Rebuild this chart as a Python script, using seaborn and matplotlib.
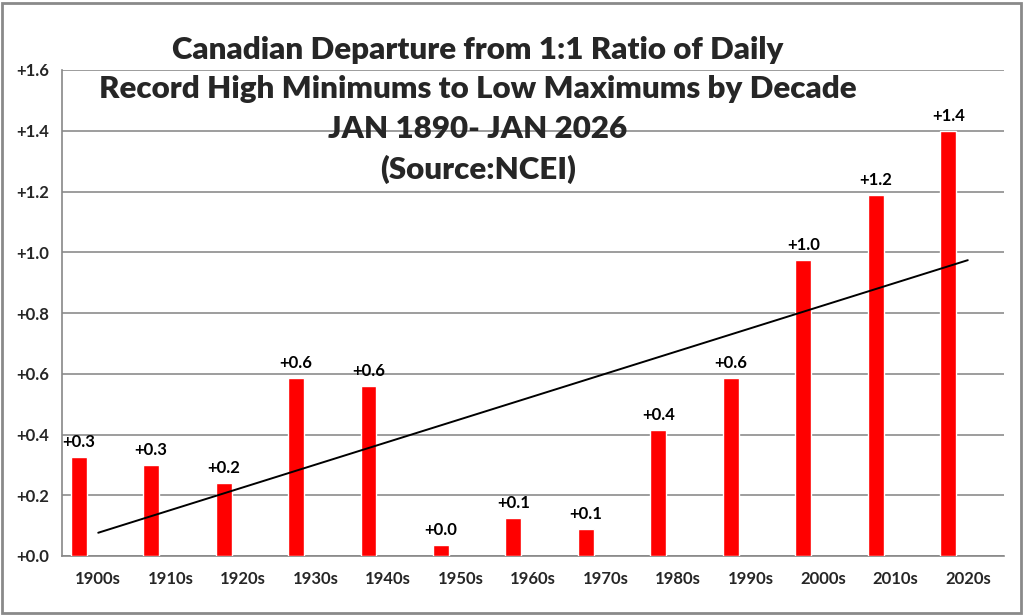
import numpy as np
import pandas as pd
import matplotlib
matplotlib.use("Agg")
import matplotlib.pyplot as plt
import matplotlib.ticker as mticker
from matplotlib.patches import Rectangle
import seaborn as sns

# data
decades = ['1900s', '1910s', '1920s', '1930s', '1940s', '1950s', '1960s',
           '1970s', '1980s', '1990s', '2000s', '2010s', '2020s']
departure = [0.325, 0.30, 0.24, 0.585, 0.56, 0.036, 0.125,
             0.09, 0.415, 0.587, 0.975, 1.19, 1.40]
y_ticks = [0.0, 0.2, 0.4, 0.6, 0.8, 1.0, 1.2, 1.4, 1.6]
title = ("Canadian Departure from 1:1 Ratio of Daily\n"
         "Record High Minimums to Low Maximums by Decade\n"
         "JAN 1890- JAN 2026\n"
         "(Source:NCEI)")

sns.set_theme(style="white")
plt.rcParams['font.family'] = ['Lato', 'DejaVu Sans']

idx = np.arange(len(decades))
bar_shift = -0.27  # bars sit left of the category centre, excel-style
df = pd.DataFrame({'pos': idx + bar_shift, 'value': departure})

fig = plt.figure(figsize=(10.24, 6.15), dpi=100)
ax = fig.add_axes([62 / 1024, 1 - 556 / 615, 942 / 1024, 486 / 615])

sns.barplot(data=df, x='pos', y='value', native_scale=True, width=0.22,
            color='#ff0000', saturation=1, ax=ax, zorder=3)

# linear trend line across the categories
slope, icpt = np.polyfit(idx, departure, 1)
ends = idx[[0, -1]]
ax.plot(ends, slope * ends + icpt, color='black', lw=1.4, zorder=4)

ax.bar_label(ax.containers[0], labels=[f"{v:+.1f}" for v in departure],
             padding=5, fontsize=12, fontweight='bold', color='black')

ax.set_xlim(-0.5, len(decades) - 0.5)
ax.set_ylim(0, 1.6)
ax.set_xticks(idx)
ax.set_xticklabels(decades, fontsize=12, fontweight='bold')
ax.xaxis.set_minor_locator(mticker.FixedLocator(np.arange(-0.5, len(decades), 1)))
ax.tick_params(axis='x', which='major', length=0, pad=11)
ax.tick_params(axis='x', which='minor', length=5, width=1, color='#888888', direction='out')
ax.set_yticks(y_ticks)
ax.yaxis.set_major_formatter(mticker.FuncFormatter(lambda v, p: f"{v:+.1f}"))
ax.tick_params(axis='y', length=5, width=1, color='#888888', labelsize=12, pad=4)
for lab in ax.get_yticklabels():
    lab.set_fontweight('bold')
ax.set_xlabel('')
ax.set_ylabel('')

ax.grid(axis='y', color='#8c8c8c', lw=1.2, zorder=0)
ax.set_axisbelow(True)
for side in ['top', 'right']:
    ax.spines[side].set_visible(False)
for side in ['left', 'bottom']:
    ax.spines[side].set_color('#888888')
    ax.spines[side].set_linewidth(1.2)
ax.patch.set_alpha(0)

fig.text(478 / 1024, 1 - 110 / 615, title, ha='center', va='center',
         fontsize=22.5, fontweight='heavy', linespacing=1.5, zorder=5)

fig.patches.append(Rectangle((2 / 1024, 2 / 615), 1019 / 1024, 610 / 615,
                             transform=fig.transFigure, fill=False,
                             edgecolor='#8a8a8a', lw=2))

fig.savefig("out.png", dpi=100)
